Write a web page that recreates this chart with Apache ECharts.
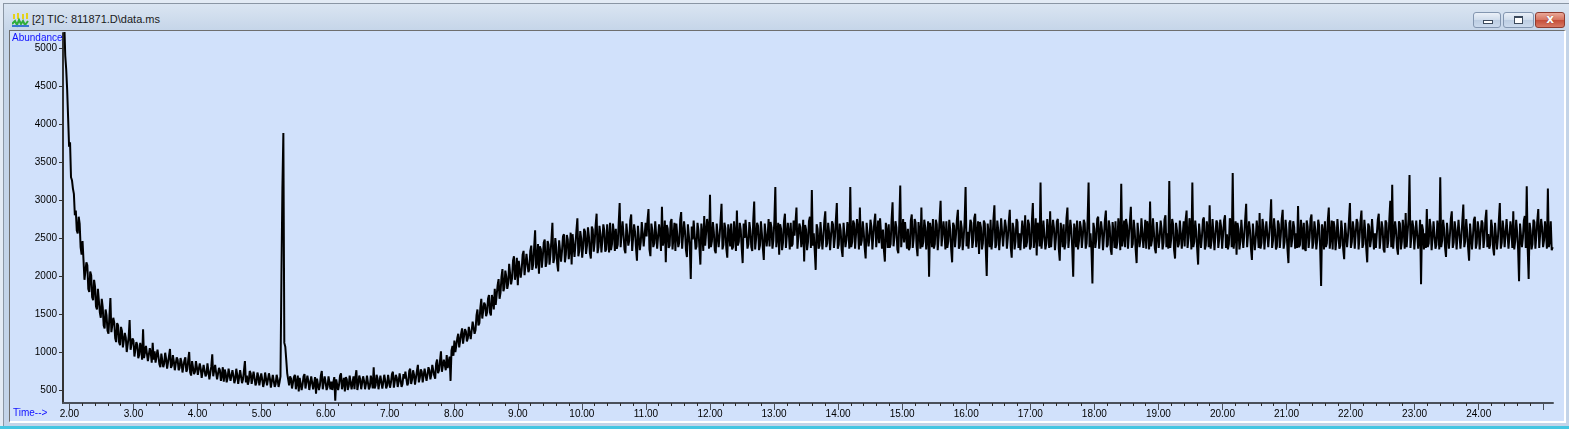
<!DOCTYPE html>
<html>
<head>
<meta charset="utf-8">
<title>TIC: 811871.D\data.ms</title>
<script src="https://cdn.jsdelivr.net/npm/echarts@6.0.0/dist/echarts.min.js"></script>
<style>
    html, body {
        margin: 0;
        padding: 0;
    }
    body {
        position: relative;
        width: 1569px;
        height: 429px;
        overflow: hidden;
        background: #e3ebf5;
        font-family: "Liberation Sans", Arial, sans-serif;
    }
    #frame {
        position: absolute;
        left: 3px;
        top: 3px;
        right: 0;
        bottom: 3px;
        border-left: 1px solid #8a96a4;
        border-top: 1px solid #8a96a4;
        background: linear-gradient(#dae5f2, #c4d4e8 28px, #c3d4e9);
    }
    #content {
        position: absolute;
        left: 9px;
        top: 30px;
        width: 1554px;
        height: 390px;
        border-top: 1px solid #6e6e6e;
        border-left: 1px solid #6e6e6e;
        border-right: 2px solid #fff;
        border-bottom: 2px solid #fff;
        background: #d1e1fb;
    }
    #strip {
        position: absolute;
        left: 0;
        top: 426px;
        width: 1569px;
        height: 3px;
        background: #45c6e2;
    }
    #icon {
        position: absolute;
        left: 12px;
        top: 12px;
    }
    #title {
        position: absolute;
        left: 32px;
        top: 13px;
        font-size: 11px;
        color: #1a1a1a;
        white-space: nowrap;
    }
    .btn {
        position: absolute;
        top: 12px;
        height: 14px;
        border: 1px solid #8396b0;
        border-radius: 3px;
        background: linear-gradient(#eaf0f8, #cfdcec 50%, #bccde2 51%, #cbdaed);
    }
    .btn.min { left: 1473px; width: 26px; }
    .btn.max { left: 1503px; width: 29px; }
    .btn.close {
        left: 1535px;
        width: 28px;
        border-color: #8e3b2f;
        background: linear-gradient(#eaa898, #d6735f 50%, #c44c38 51%, #d77863);
    }
    .btn.min i {
        position: absolute;
        left: 9px;
        top: 7px;
        width: 8px;
        height: 2px;
        border: 1px solid #3c4a5c;
        background: #fff;
    }
    .btn.max i {
        position: absolute;
        left: 10px;
        top: 3px;
        width: 7px;
        height: 5px;
        border: 1px solid #3c4a5c;
        border-top-width: 2px;
        background: #fff;
    }
    .btn.close b {
        position: absolute;
        left: 0;
        right: 0;
        top: -1px;
        text-align: center;
        font: bold 12px "DejaVu Sans", sans-serif;
        color: #fff;
        text-shadow: 0 0 1px #6b2016;
    }
    #chart {
        position: absolute;
        left: 0;
        top: 0;
        width: 1569px;
        height: 429px;
    }
</style>
</head>
<body>
<div id="frame"></div>
<svg id="icon" width="17" height="16" viewBox="0 0 17 16">
    <rect x="1" y="2" width="2" height="5" fill="#e5d21a"/>
    <rect x="5" y="1" width="2" height="6" fill="#e5d21a"/>
    <rect x="10" y="2" width="2" height="5" fill="#e5d21a"/>
    <rect x="14" y="1" width="2" height="6" fill="#e5d21a"/>
    <polyline points="0,12 3,9 5,13 7,8 9,12 11,9 13,13 16,9" fill="none" stroke="#2fae3a" stroke-width="2"/>
    <rect x="0" y="13" width="17" height="2" fill="#3a78d0"/>
</svg>
<div id="title">[2] TIC: 811871.D\data.ms</div>
<div class="btn min"><i></i></div>
<div class="btn max"><i></i></div>
<div class="btn close"><b>x</b></div>
<div id="content"></div>
<div id="strip"></div>
<div id="chart"></div>

<script>
    // one scan every 0.015 min, first scan at 1.92 min
    var scanStart = 1.92;
    var scanStep = 0.015;

    // solvent tail 1.920 - 5.295 min
    var decayTrace = [
        5320, 4900, 4720, 4450, 4080, 3700, 3760, 3300, 3260, 3150, 3080, 2800, 2860, 2600, 2560, 2780, 2690, 2380, 2280, 2460,
        2210, 1950, 1930, 2180, 2140, 1830, 1790, 2060, 2010, 1720, 1680, 1950, 1860, 1600, 1560, 1830, 1820, 1520, 1450, 1700,
        1590, 1350, 1310, 1560, 1480, 1280, 1240, 1480, 1710, 1260, 1260, 1450, 1390, 1180, 1130, 1380, 1350, 1130, 1090, 1330,
        1280, 1060, 1040, 1250, 1190, 1000, 980, 1200, 1420, 1030, 1010, 1180, 1150, 940, 930, 1130, 1090, 920, 960, 1120,
        1050, 900, 1300, 920, 920, 1080, 1060, 880, 860, 1050, 990, 860, 1120, 900, 1010, 860, 870, 1030, 940, 840,
        800, 980, 960, 800, 850, 990, 910, 780, 760, 950, 1040, 790, 820, 960, 880, 760, 740, 930, 900, 760,
        790, 920, 870, 730, 720, 890, 930, 740, 770, 900, 1000, 730, 690, 880, 860, 710, 740, 880, 800, 700,
        700, 850, 780, 660, 660, 830, 840, 680, 710, 850, 750, 640, 630, 810, 970, 680, 690, 830, 730, 640,
        650, 790, 760, 620, 700, 800, 610, 770, 720, 600, 660, 780, 800, 620, 620, 760, 690, 590, 640, 780,
        700, 580, 590, 760, 750, 590, 640, 760, 880, 600, 690, 570, 620, 750, 720, 580, 580, 740, 660, 560,
        600, 730, 680, 560, 550, 720, 640, 540, 600, 730, 720, 560, 570, 720, 650, 530, 540, 700, 620, 540,
        580, 700, 640, 540, 600, 680
    ];

    // the single peak, 5.310 - 5.415 min
    var peakTrace = [2000, 3150, 3880, 1120, 1070, 900, 720, 640];

    // flat stretch 5.430 - 7.635 min
    var lowTrace = [
        560, 680, 650, 520, 520, 670, 700, 510, 600, 690, 480, 660, 640, 500, 570, 680, 710, 520, 530, 690,
        620, 500, 500, 680, 680, 510, 590, 670, 450, 650, 660, 500, 560, 690, 750, 510, 510, 680, 600, 500,
        540, 680, 680, 510, 610, 500, 600, 670, 360, 640, 650, 500, 570, 690, 720, 510, 590, 660, 480, 670,
        640, 500, 550, 690, 700, 510, 600, 680, 510, 670, 760, 500, 580, 690, 640, 510, 490, 680, 620, 510,
        580, 690, 690, 510, 540, 690, 620, 520, 800, 520, 560, 700, 650, 510, 500, 690, 700, 520, 600, 700,
        630, 520, 560, 700, 690, 530, 600, 710, 740, 530, 520, 700, 660, 540, 610, 720, 720, 540, 580, 710,
        650, 740, 720, 560, 590, 750, 780, 580, 640, 760, 700, 570, 560, 750, 830, 600, 660, 770, 740, 600,
        620, 780, 790, 620, 700, 800, 760, 640
    ];

    // baseline rise 7.650 - 10.515 min
    var riseTrace = [
        700, 830, 820, 690, 650, 850, 900, 720, 760, 880, 1010, 740, 720, 900, 880, 760, 960, 790, 790, 940,
        620, 1020, 1080, 950, 1150, 1000, 990, 1180, 1240, 1060, 1060, 1240, 1310, 1110, 1130, 1300, 1270, 1140, 1180, 1330,
        1350, 1170, 1150, 1400, 1420, 1240, 1290, 1480, 1560, 1350, 1380, 1580, 1700, 1440, 1440, 1650, 1620, 1470, 1520, 1700,
        1750, 1520, 1480, 1750, 1680, 1560, 1830, 1620, 1600, 1880, 1960, 1700, 1780, 1990, 2090, 1800, 1850, 2070, 1990, 1830,
        1900, 2160, 2140, 1890, 1970, 2200, 2260, 1950, 2040, 2240, 1880, 2200, 2210, 1980, 2080, 2280, 2330, 2010, 2010, 2290,
        2280, 2050, 2090, 2330, 2400, 2080, 2150, 2380, 2600, 2100, 2200, 2420, 2030, 2390, 2350, 2110, 2250, 2440, 2480, 2120,
        2180, 2460, 2410, 2150, 2290, 2480, 2700, 2170, 2230, 2500, 2380, 2160, 2060, 2470, 2450, 2190, 2330, 2520, 2550, 2180,
        2280, 2540, 2480, 2220, 2350, 2570, 2150, 2550, 2560, 2250, 2420, 2600, 2760, 2260, 2330, 2590, 2490, 2240, 2390, 2620,
        2580, 2290, 2400, 2640, 2520, 2300, 2230, 2650, 2610, 2320, 2450, 2670, 2820, 2300, 2380, 2660, 2540, 2310, 2470, 2680,
        2600, 2320, 2350, 2680, 2500, 2310, 2700, 2340, 2420, 2690, 2560, 2330
    ];

    // plateau 10.530 - 14.175 min
    var plateauA = [
        2620, 2360, 2410, 2700, 2960, 2380, 2380, 2720, 2550, 2350, 2300, 2690, 2690, 2400, 2470, 2730, 2810, 2330, 2350, 2680,
        2580, 2370, 2200, 2660, 2640, 2340, 2450, 2710, 2730, 2390, 2390, 2700, 2520, 2740, 2880, 2350, 2260, 2690, 2600, 2380,
        2430, 2720, 2700, 2360, 2340, 2680, 2560, 2330, 2910, 2400, 2480, 2730, 2180, 2670, 2620, 2370, 2400, 2710, 2750, 2350,
        2510, 2700, 2330, 2690, 2680, 2380, 2440, 2740, 2840, 2360, 2370, 2720, 2590, 2340, 2250, 2680, 2660, 2390, 1960, 2650,
        2480, 2730, 2720, 2350, 2390, 2700, 2600, 2370, 2150, 2690, 2550, 2330, 2790, 2400, 2420, 2750, 2640, 2360, 3070, 2380,
        2460, 2710, 2580, 2340, 2300, 2690, 2700, 2380, 2520, 2730, 2950, 2350, 2410, 2700, 2630, 2360, 2240, 2680, 2570, 2390,
        2690, 2350, 2380, 2720, 2540, 2330, 2860, 2400, 2450, 2700, 2610, 2370, 2170, 2690, 2500, 2740, 2740, 2360, 2420, 2710,
        2600, 2380, 2330, 2730, 2980, 2350, 2490, 2700, 2660, 2340, 2400, 2720, 2560, 2370, 2210, 2690, 2700, 2390, 2530, 2750,
        2390, 2710, 2640, 2360, 2470, 2730, 3170, 2380, 2510, 2700, 2280, 2680, 2620, 2340, 2440, 2720, 2820, 2370, 2360, 2700,
        2580, 2350, 2700, 2390, 2420, 2730, 2530, 2710, 2900, 2360, 2350, 2690, 2640, 2380, 2480, 2740, 2190, 2670, 2610, 2340,
        2450, 2720, 2780, 2370, 3130, 2400, 2560, 2330, 2080, 2680, 2620, 2360, 2400, 2710, 2690, 2350, 2510, 2730, 2850, 2380,
        2430, 2700, 2570, 2340, 2320, 2720, 2680, 2370, 2500, 2740, 2960, 2360, 2410, 2690, 2600, 2350, 2250, 2700, 2720, 2380,
        2480, 2710, 2610, 2360
    ];

    // plateau 14.190 - 17.835 min
    var plateauB = [
        3170, 2380, 2450, 2730, 2690, 2360, 2380, 2750, 2620, 2350, 2900, 2400, 2470, 2720, 2580, 2370, 2230, 2700, 2710, 2390,
        2500, 2740, 2650, 2350, 2360, 2710, 2820, 2380, 2550, 2730, 2430, 2760, 2760, 2360, 2610, 2340, 2190, 2700, 2590, 2370,
        2680, 2370, 2420, 2740, 2970, 2390, 2510, 2720, 2640, 2350, 2300, 2700, 3190, 2380, 2560, 2750, 2440, 2710, 2730, 2360,
        2620, 2340, 2380, 2730, 2810, 2370, 2490, 2750, 2700, 2390, 2260, 2710, 2580, 2360, 2900, 2380, 2450, 2740, 2640, 2350,
        2530, 2720, 1990, 2700, 2600, 2380, 2750, 2360, 2420, 2740, 2680, 2340, 2510, 2760, 2990, 2390, 2370, 2720, 2560, 2350,
        2720, 2370, 2460, 2740, 2610, 2350, 2180, 2700, 2660, 2380, 2540, 2750, 2870, 2360, 2400, 2730, 2630, 2340, 2500, 2720,
        3170, 2390, 2580, 2360, 2350, 2740, 2700, 2370, 2470, 2760, 2820, 2380, 2550, 2720, 2290, 2710, 2640, 2350, 2430, 2730,
        2690, 2360, 2000, 2690, 2560, 2380, 2740, 2350, 2480, 2750, 2930, 2370, 2410, 2730, 2600, 2340, 2520, 2760, 2780, 2390,
        2380, 2740, 2650, 2360, 2500, 2720, 2870, 2380, 2240, 2700, 2620, 2350, 2460, 2750, 2710, 2370, 2560, 2340, 2330, 2730,
        2600, 2360, 2800, 2380, 2450, 2740, 2680, 2350, 2390, 2720, 2960, 2370, 2520, 2760, 2270, 2700, 2640, 2390, 3230, 2360,
        2500, 2730, 2710, 2350, 2420, 2750, 2580, 2370, 2850, 2380, 2360, 2740, 2630, 2340, 2490, 2720, 2750, 2360, 2200, 2700,
        2570, 2380, 2680, 2350, 2440, 2760, 2900, 2370, 2530, 2740, 2620, 2360, 1990, 2690, 2590, 2380, 2730, 2350, 2460, 2720,
        2640, 2370, 2520, 2740
    ];

    // plateau 17.850 - 21.495 min
    var plateauC = [
        2690, 2360, 2430, 2740, 3230, 2380, 2560, 2350, 1900, 2700, 2620, 2370, 2480, 2750, 2780, 2360, 2370, 2720, 2600, 2340,
        2520, 2740, 2860, 2380, 2410, 2730, 2650, 2350, 2280, 2710, 2570, 2370, 2720, 2360, 2450, 2760, 2610, 2340, 3215, 2390,
        2500, 2730, 2380, 2750, 2670, 2360, 2540, 2720, 2910, 2370, 2420, 2740, 2600, 2350, 2170, 2700, 2690, 2380, 2480, 2760,
        2750, 2370, 2530, 2740, 2360, 2720, 2640, 2350, 2980, 2390, 2470, 2760, 2580, 2360, 2300, 2710, 2700, 2370, 2510, 2730,
        2620, 2350, 2440, 2740, 2800, 2380, 2560, 2360, 3250, 2370, 2490, 2750, 2680, 2340, 2230, 2700, 2600, 2380, 2420, 2730,
        2710, 2360, 2550, 2720, 2390, 2740, 2860, 2370, 2500, 2760, 2640, 2350, 3230, 2380, 2450, 2730, 2590, 2360, 2150, 2690,
        2680, 2370, 2520, 2740, 2770, 2350, 2400, 2720, 2610, 2380, 2930, 2360, 2470, 2750, 2560, 2340, 2340, 2730, 2700, 2370,
        2490, 2740, 2640, 2360, 2380, 2730, 2800, 2370, 2550, 2350, 2420, 2760, 2690, 2380, 3355, 2360, 2510, 2720, 2280, 2700,
        2620, 2350, 2460, 2740, 2740, 2370, 2530, 2750, 2950, 2380, 2400, 2720, 2600, 2360, 2210, 2690, 2670, 2340, 2500, 2730,
        2580, 2370, 2830, 2360, 2440, 2750, 2650, 2350, 2360, 2720, 2720, 2380, 2540, 2740, 3010, 2370, 2470, 2760, 2610, 2350,
        2390, 2730, 2680, 2370, 2520, 2750, 2870, 2360, 2450, 2740, 2600, 2350, 2170, 2700, 2730, 2380, 2490, 2720, 2640, 2360,
        2560, 2370, 2920, 2380, 2410, 2740, 2590, 2350, 2700, 2360, 2330, 2730, 2650, 2370, 2500, 2750, 2810, 2360, 2440, 2720,
        2600, 2350, 2480, 2740
    ];

    // plateau 21.510 - 25.155 min
    var plateauD = [
        2660, 2370, 1870, 2680, 2580, 2350, 2720, 2380, 2430, 2740, 2900, 2360, 2510, 2730, 2350, 2720, 2640, 2340, 2480, 2750,
        2770, 2360, 2400, 2730, 2590, 2350, 2220, 2700, 2680, 2380, 2530, 2740, 2960, 2370, 2450, 2720, 2610, 2360, 2370, 2750,
        2700, 2350, 2510, 2730, 2860, 2370, 2420, 2740, 2590, 2360, 2180, 2690, 2650, 2380, 2480, 2750, 2740, 2350, 2560, 2370,
        2390, 2740, 2820, 2360, 2500, 2720, 2630, 2350, 2310, 2730, 2700, 2370, 2470, 2750, 2990, 2380, 3200, 2360, 2540, 2720,
        2600, 2370, 2280, 2720, 2690, 2350, 2450, 2740, 2580, 2360, 2830, 2380, 2400, 2750, 3330, 2370, 2520, 2730, 2640, 2350,
        2370, 2730, 2710, 2360, 2490, 2740, 1890, 2680, 2610, 2350, 2560, 2370, 2880, 2380, 2430, 2750, 2650, 2340, 2500, 2720,
        2740, 2360, 2410, 2730, 2580, 2350, 3300, 2380, 2470, 2740, 2620, 2370, 2250, 2700, 2690, 2360, 2530, 2750, 2850, 2370,
        2440, 2720, 2600, 2350, 2370, 2740, 2720, 2360, 2510, 2730, 2940, 2380, 2460, 2750, 2580, 2370, 2200, 2690, 2670, 2350,
        2520, 2740, 2780, 2360, 2430, 2720, 2610, 2350, 2340, 2730, 2700, 2370, 2490, 2750, 2870, 2380, 2550, 2360, 2410, 2740,
        2640, 2370, 2270, 2700, 2690, 2350, 2500, 2740, 2960, 2360, 2440, 2730, 2590, 2380, 2380, 2750, 2730, 2360, 2520, 2720,
        2610, 2370, 2850, 2350, 2460, 2740, 2580, 2360, 1930, 2690, 2670, 2380, 2500, 2730, 2790, 2370, 3180, 2360, 1960, 2700,
        2600, 2350, 2420, 2740, 2710, 2360, 2530, 2730, 2880, 2370, 2390, 2750, 2640, 2380, 2470, 2720, 2560, 2360, 3150, 2380,
        2450, 2720, 2340, 2380
    ];

    // axis ranges and tick labels
    var timeMin = 1.9;
    var timeMax = 25.16;
    var abundanceMin = 329;
    var abundanceMax = 5197;
    var timeMajor = [2, 3, 4, 5, 6, 7, 8, 9, 10, 11, 12, 13, 14, 15, 16, 17, 18, 19, 20, 21, 22, 23, 24, 25];
    var timeLabels = [2, 3, 4, 5, 6, 7, 8, 9, 10, 11, 12, 13, 14, 15, 16, 17, 18, 19, 20, 21, 22, 23, 24];
    var abundanceTicks = [500, 1000, 1500, 2000, 2500, 3000, 3500, 4000, 4500, 5000];

    var axisColor = '#4a505a';
    var labelFont = {
        fontFamily: '"Liberation Sans", Arial, sans-serif',
        fontSize: 10,
        color: '#000'
    };

    var abundance = [].concat(decayTrace, peakTrace, lowTrace, riseTrace, plateauA, plateauB, plateauC, plateauD);
    var points = [];
    var i, k;
    for (i = 0; i < abundance.length; i++) {
        points.push([+(scanStart + i * scanStep).toFixed(3), abundance[i]]);
    }

    // 0.2 min minor ticks between the whole minutes
    var timeMinor = [];
    for (i = 0; i < timeMajor.length - 1; i++) {
        for (k = 1; k < 5; k++) {
            timeMinor.push(+(timeMajor[i] + k * 0.2).toFixed(1));
        }
    }

    var myChart = echarts.init(document.getElementById('chart'), null, {renderer: 'canvas'});

    myChart.setOption({
        backgroundColor: 'transparent',
        animation: false,
        grid: {
            left: 63,
            top: 33,
            right: 16,
            bottom: 26,
            containLabel: false
        },
        xAxis: [{
            type: 'value',
            min: timeMin,
            max: timeMax,
            position: 'bottom',
            axisLine: {show: true, onZero: false, lineStyle: {color: axisColor, width: 2}},
            axisTick: {
                show: true,
                length: 7,
                customValues: timeMajor,
                lineStyle: {color: axisColor, width: 1}
            },
            axisLabel: {
                show: true,
                margin: 6,
                customValues: timeLabels,
                formatter: function (v) {
                    return v.toFixed(2);
                },
                fontFamily: labelFont.fontFamily,
                fontSize: labelFont.fontSize,
                color: labelFont.color
            },
            splitLine: {show: false}
        }, {
            type: 'value',
            min: timeMin,
            max: timeMax,
            position: 'bottom',
            axisLine: {show: false, onZero: false},
            axisTick: {
                show: true,
                length: 3,
                customValues: timeMinor,
                lineStyle: {color: '#2a2a2a', width: 1}
            },
            axisLabel: {show: false},
            splitLine: {show: false}
        }],
        yAxis: {
            type: 'value',
            min: abundanceMin,
            max: abundanceMax,
            axisLine: {show: true, onZero: false, lineStyle: {color: '#333', width: 2}},
            axisTick: {
                show: true,
                length: 4,
                customValues: abundanceTicks,
                lineStyle: {color: '#333', width: 1}
            },
            axisLabel: {
                show: true,
                margin: 6,
                customValues: abundanceTicks,
                formatter: function (v) {
                    return String(v);
                },
                fontFamily: labelFont.fontFamily,
                fontSize: labelFont.fontSize,
                color: labelFont.color
            },
            splitLine: {show: false}
        },
        graphic: [{
            type: 'text',
            left: 12,
            top: 33,
            style: {
                text: 'Abundance',
                fill: '#1010ff',
                font: '10px "Liberation Sans", Arial, sans-serif'
            }
        }, {
            type: 'text',
            left: 13,
            top: 408,
            style: {
                text: 'Time-->',
                fill: '#1010ff',
                font: '10px "Liberation Sans", Arial, sans-serif'
            }
        }],
        series: [{
            name: 'TIC',
            type: 'line',
            xAxisIndex: 0,
            yAxisIndex: 0,
            data: points,
            showSymbol: false,
            symbol: 'none',
            clip: true,
            sampling: null,
            lineStyle: {color: '#000', width: 2},
            emphasis: {disabled: true}
        }]
    });
</script>
</body>
</html>
